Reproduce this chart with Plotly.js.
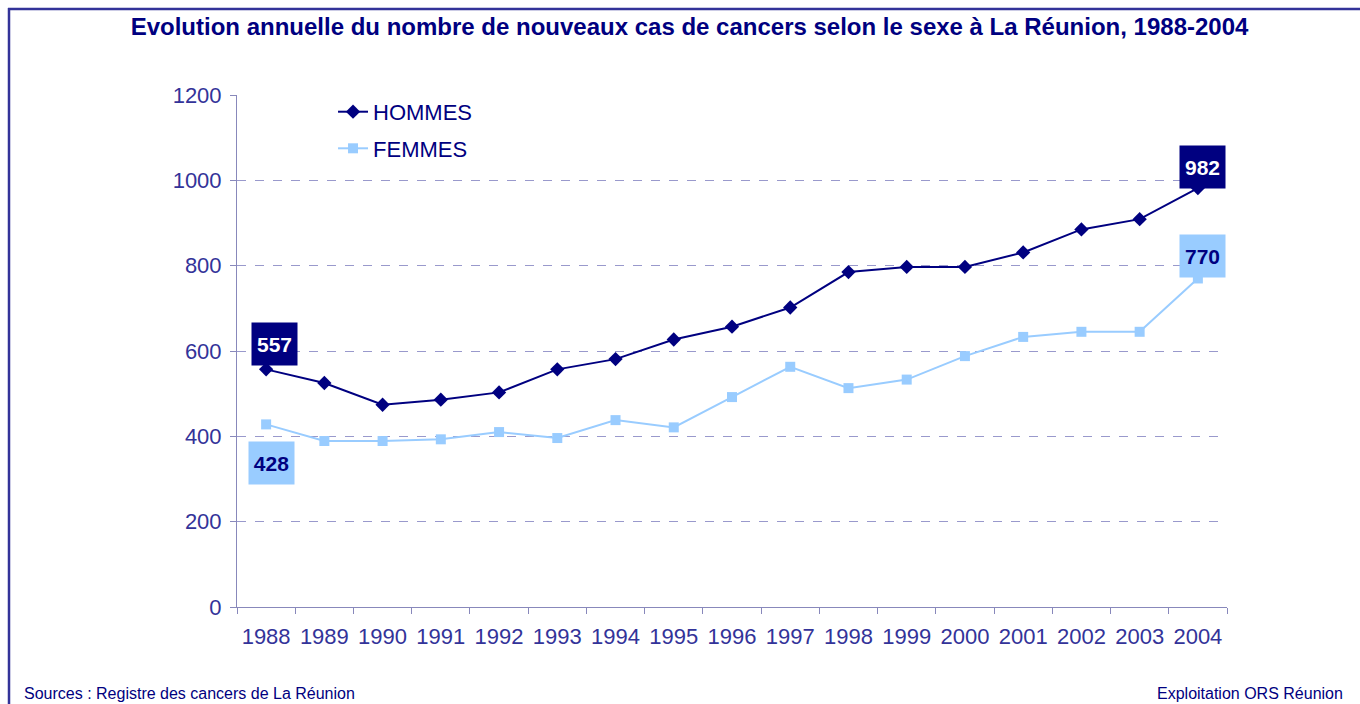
<!DOCTYPE html>
<html>
<head>
<meta charset="utf-8">
<script src="https://cdn.plot.ly/plotly-3.0.1.min.js"></script>
<style>
html,body{margin:0;padding:0;background:#fff;}
#chart{width:1360px;height:704px;}
</style>
</head>
<body>
<div id="chart"></div>
<script>
const years = ['1988','1989','1990','1991','1992','1993','1994','1995','1996','1997','1998','1999','2000','2001','2002','2003','2004'];
const hommes = [557,525,474,486,503,557,581,627,657,702,785,797,797,831,885,909,982];
const femmes = [428,389,389,393,410,396,438,421,492,563,513,533,588,633,645,645,770];
const yTicks = [0,200,400,600,800,1000,1200];

const NAVY = '#000080';
const LIGHT = '#99CCFF';
const AXIS = '#333399';
const FONT = 'Liberation Sans, Arial, sans-serif';

const traces = [
  {x: years, y: hommes, name: 'HOMMES', type: 'scatter', mode: 'lines+markers',
   legendgroup: 'h',
   line: {color: NAVY, width: 2}, marker: {symbol: 'diamond', size: 11, color: NAVY}},
  {x: years, y: femmes, name: 'FEMMES', type: 'scatter', mode: 'lines+markers',
   legendgroup: 'f',
   line: {color: LIGHT, width: 2}, marker: {symbol: 'square', size: 10, color: LIGHT}}
];

const first = 0, last = years.length - 1;
const annotations = [
  {x: first, y: hommes[first], text: '<b>' + hommes[first] + '</b>', showarrow: false,
   xshift: 8, yshift: 25, bgcolor: NAVY, font: {color: '#fff', size: 21, family: FONT},
   width: 37, height: 34, borderpad: 4},
  {x: first, y: femmes[first], text: '<b>' + femmes[first] + '</b>', showarrow: false,
   xshift: 5, yshift: -39, bgcolor: LIGHT, font: {color: NAVY, size: 21, family: FONT},
   width: 37, height: 34, borderpad: 4},
  {x: last, y: hommes[last], text: '<b>' + hommes[last] + '</b>', showarrow: false,
   xshift: 5, yshift: 21, bgcolor: NAVY, font: {color: '#fff', size: 21, family: FONT},
   width: 37, height: 34, borderpad: 4},
  {x: last, y: femmes[last], text: '<b>' + femmes[last] + '</b>', showarrow: false,
   xshift: 5, yshift: 22, bgcolor: LIGHT, font: {color: NAVY, size: 21, family: FONT},
   width: 37, height: 34, borderpad: 4},
  {xref: 'paper', yref: 'paper', x: -0.2172, y: -0.1885, xanchor: 'left', yanchor: 'bottom',
   text: 'Sources : Registre des cancers de La Réunion', showarrow: false,
   font: {size: 16, color: NAVY, family: FONT}},
  {xref: 'paper', yref: 'paper', x: 1.1192, y: -0.1885, xanchor: 'right', yanchor: 'bottom',
   text: 'Exploitation ORS Réunion', showarrow: false,
   font: {size: 16, color: NAVY, family: FONT}}
];

const layout = {
  width: 1360, height: 704,
  margin: {l: 237, r: 133, t: 95, b: 97},
  paper_bgcolor: '#fff', plot_bgcolor: '#fff',
  font: {family: FONT, color: AXIS},
  title: {text: '<b>Evolution annuelle du nombre de nouveaux cas de cancers selon le sexe à La Réunion, 1988-2004</b>',
          font: {size: 24, color: NAVY, family: FONT}, x: 0.507, xanchor: 'center', y: 0.962, yanchor: 'middle'},
  xaxis: {type: 'category', range: [-0.5, years.length - 0.5], tickvals: years, ticktext: years,
          showline: true, linecolor: '#8888BB', linewidth: 1,
          ticks: 'outside', tickson: 'boundaries', ticklen: 6, tickcolor: '#8888BB',
          ticklabelstandoff: 10,
          showgrid: false, zeroline: false,
          tickfont: {size: 22, color: AXIS, family: FONT}, fixedrange: true},
  yaxis: {range: [0, 1200], tickvals: yTicks, ticktext: yTicks.map(String),
          showline: true, linecolor: '#8888BB', linewidth: 1,
          ticks: 'outside', ticklen: 6, tickcolor: '#8888BB',
          ticklabelstandoff: 4,
          showgrid: true, gridcolor: '#9999CC', griddash: 'dash', gridwidth: 1,
          zeroline: false,
          tickfont: {size: 22, color: AXIS, family: FONT}, fixedrange: true},
  showlegend: true,
  legend: {x: 0.097, y: 1.008, xanchor: 'left', yanchor: 'top', bgcolor: 'rgba(0,0,0,0)',
           font: {size: 22, color: NAVY, family: FONT}, tracegroupgap: 5, traceorder: 'grouped'},
  annotations: annotations,
  shapes: [
    {type: 'line', xref: 'paper', yref: 'paper', x0: -0.2313, x1: 1.135, y0: 1.168, y1: 1.168,
     line: {color: AXIS, width: 2.5}},
    {type: 'line', xref: 'paper', yref: 'paper', x0: -0.2303, x1: -0.2303, y0: 1.170, y1: -0.19,
     line: {color: AXIS, width: 2.5}}
  ]
};

Plotly.newPlot('chart', traces, layout, {displayModeBar: false, staticPlot: true});
</script>
</body>
</html>
